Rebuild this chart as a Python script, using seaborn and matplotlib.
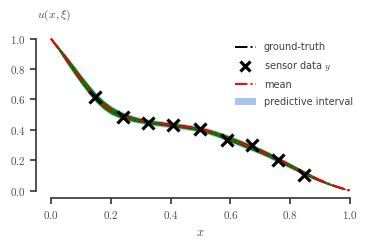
import numpy as np
import pandas as pd
import matplotlib
matplotlib.use("Agg")
import matplotlib.pyplot as plt
import seaborn as sns
from matplotlib.ticker import FuncFormatter
from matplotlib.lines import Line2D
from matplotlib.patches import Patch

# curve (step 0.025)
x_grid = [0.0, 0.025, 0.05, 0.075, 0.1, 0.125, 0.15, 0.175, 0.2, 0.225,
          0.25, 0.275, 0.3, 0.325, 0.35, 0.375, 0.4, 0.425, 0.45, 0.475,
          0.5, 0.525, 0.55, 0.575, 0.6, 0.625, 0.65, 0.675, 0.7, 0.725,
          0.75, 0.775, 0.8, 0.825, 0.85, 0.875, 0.9, 0.925, 0.95, 0.975, 1.0]
u_true = [1.0, 0.935, 0.868, 0.80, 0.733, 0.67, 0.612, 0.566, 0.53, 0.505,
          0.487, 0.472, 0.461, 0.452, 0.445, 0.439, 0.433, 0.427, 0.42, 0.412,
          0.403, 0.391, 0.376, 0.358, 0.339, 0.32, 0.30, 0.281, 0.261, 0.238,
          0.214, 0.189, 0.164, 0.139, 0.114, 0.09, 0.068, 0.048, 0.03, 0.014, 0.0]
# half widths of the sample band (green) and predictive interval (blue)
band_hw = [0.0, 0.012, 0.02, 0.024, 0.026, 0.027, 0.027, 0.026, 0.024, 0.021,
           0.018, 0.016, 0.014, 0.013, 0.013, 0.013, 0.013, 0.013, 0.013, 0.013,
           0.013, 0.014, 0.015, 0.016, 0.017, 0.017, 0.017, 0.017, 0.017, 0.016,
           0.016, 0.015, 0.014, 0.013, 0.012, 0.011, 0.009, 0.007, 0.005, 0.003, 0.0]
pi_hw = [0.0, 0.016, 0.026, 0.031, 0.033, 0.034, 0.034, 0.033, 0.031, 0.028,
         0.025, 0.023, 0.021, 0.020, 0.020, 0.020, 0.020, 0.020, 0.020, 0.020,
         0.020, 0.021, 0.022, 0.023, 0.023, 0.023, 0.023, 0.023, 0.022, 0.022,
         0.021, 0.020, 0.019, 0.018, 0.016, 0.014, 0.012, 0.010, 0.007, 0.004, 0.0]

# sensor data
x_obs = [0.147, 0.24, 0.324, 0.408, 0.498, 0.587, 0.671, 0.759, 0.846]
y_obs = [0.616, 0.485, 0.445, 0.432, 0.406, 0.330, 0.301, 0.202, 0.103]

df = pd.DataFrame({"x": x_grid, "u": u_true, "hw": band_hw, "pi": pi_hw})
df_obs = pd.DataFrame({"x": x_obs, "y": y_obs})

sns.set_theme(style="ticks")
plt.rcParams["font.family"] = ["DejaVu Sans"]
plt.rcParams["mathtext.fontset"] = "cm"

fig, ax = plt.subplots(figsize=(3.74, 2.46), dpi=100)
fig.subplots_adjust(left=0.0963, right=0.976, bottom=0.194, top=0.874)

ax.fill_between(df["x"], df["u"] - df["pi"], df["u"] + df["pi"],
                color="#a9c4f0", lw=0, alpha=0.9)
ax.fill_between(df["x"], df["u"] - df["hw"], df["u"] + df["hw"],
                color="green", lw=0)
sns.lineplot(data=df, x="x", y="u", ax=ax, color="black", ls="-.", lw=1.4)
sns.lineplot(data=df, x="x", y="u", ax=ax, color="red", ls="-.", lw=1.4)
ax.plot(df_obs["x"], df_obs["y"], ls="none", marker="x", ms=8, mew=2.3,
        color="black", zorder=5)

ax.set_xticks([0.0, 0.2, 0.4, 0.6, 0.8, 1.0])
ax.set_yticks([0.0, 0.2, 0.4, 0.6, 0.8, 1.0])
fmt = FuncFormatter(lambda v, p: f"${v:.1f}$")
ax.xaxis.set_major_formatter(fmt)
ax.yaxis.set_major_formatter(fmt)
ax.tick_params(labelsize=8, length=4, width=1.2, color=".2", labelcolor=".3")
for s in ["left", "bottom"]:
    ax.spines[s].set_linewidth(1.2)
    ax.spines[s].set_color(".2")

ax.set_xlabel("$x$", fontsize=9, color=".3")
ax.set_ylabel("")
ax.text(0.055, 1.05, r"$u(x,\xi)$", transform=ax.transAxes, fontsize=8.5,
        color=".3", ha="center", va="bottom")
sns.despine(ax=ax, trim=True)

handles = [
    Line2D([], [], color="black", ls="-.", lw=1.4),
    Line2D([], [], color="black", ls="none", marker="x", ms=7, mew=2.3),
    Line2D([], [], color="red", ls="-.", lw=1.4),
    Patch(facecolor="#a9c4f0", edgecolor="none"),
]
labels = ["ground-truth", "sensor data $y$", "mean", "predictive interval"]
leg = ax.legend(handles, labels, loc="upper right", bbox_to_anchor=(0.99, 0.985),
                frameon=False, fontsize=7, labelspacing=0.7, handlelength=2.2,
                handletextpad=0.8)
for t in leg.get_texts():
    t.set_color(".25")

fig.savefig("out.png", dpi=100)
